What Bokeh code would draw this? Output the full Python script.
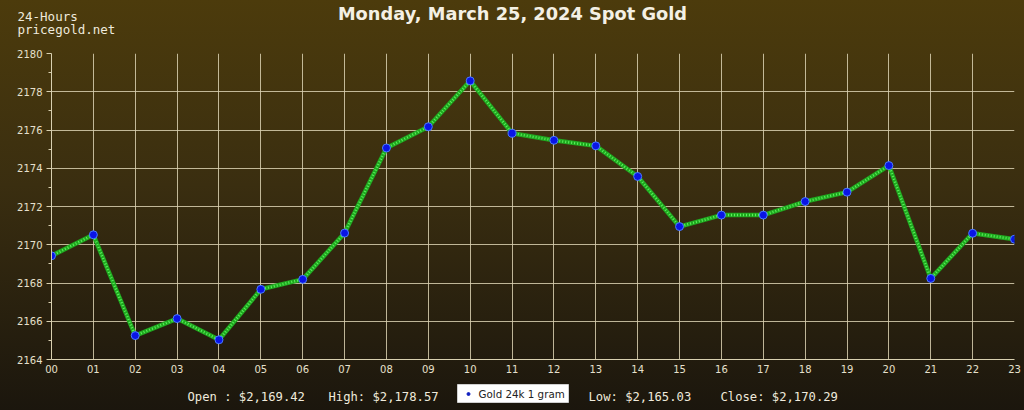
from bokeh.plotting import figure
from bokeh.layouts import column
from bokeh.models import FixedTicker, Range1d, GlobalInlineStyleSheet
from bokeh.core.properties import value
from bokeh.embed import file_html
from bokeh.resources import INLINE

hours = list(range(24))
hour_labels = ["%02d" % h for h in hours]
prices = [2169.42, 2170.52, 2165.25, 2166.14, 2165.03, 2167.67, 2168.19, 2170.61,
          2175.06, 2176.17, 2178.57, 2175.83, 2175.46, 2175.17, 2173.57, 2170.95,
          2171.55, 2171.55, 2172.26, 2172.75, 2174.14, 2168.24, 2170.60, 2170.29]
y_ticks = [2164, 2166, 2168, 2170, 2172, 2174, 2176, 2178, 2180]
title_text = "Monday, March 25, 2024 Spot Gold"
corner_lines = ["24-Hours", "pricegold.net"]
stats = ["Open : $2,169.42", "High: $2,178.57", "Low: $2,165.03", "Close: $2,170.29"]
series_name = "Gold 24k 1 gram"

W = 1024
HEAD_H, MAIN_H, FOOT_H = 40, 340, 30
BL, BR = 51, 10          # left / right borders of the chart area
TXT = "#efeadc"
GRID = "#d9d0b0"


def blank(h):
    f = figure(width=W, height=h, output_backend="svg", toolbar_location=None,
               x_range=Range1d(0, W), y_range=Range1d(h, 0),
               x_axis_type=None, y_axis_type=None, min_border=0)
    f.frame_align = False
    f.grid.visible = False
    f.outline_line_color = None
    f.background_fill_alpha = 0
    f.border_fill_alpha = 0
    return f


# ---- header ----
head = blank(HEAD_H)
head.text(x=[512], y=[12.5], text=[title_text], text_align="center",
          text_baseline="middle", text_font=value("DejaVu Sans"),
          text_font_style="bold", text_font_size="17.8px", text_color="#f4f0e4")
head.text(x=[17, 17], y=[16, 29], text=corner_lines, text_align="left",
          text_baseline="middle", text_font=value("DejaVu Sans Mono"),
          text_font_size="12.5px", text_color=TXT)

# ---- main chart ----
p = figure(width=W, height=MAIN_H, output_backend="svg", toolbar_location=None,
           x_range=Range1d(0, 23), y_range=Range1d(2164, 2180),
           min_border_left=BL, min_border_right=BR, min_border_top=13,
           min_border_bottom=21)
p.background_fill_alpha = 0
p.border_fill_alpha = 0
p.outline_line_color = None
p.stylesheets = [GlobalInlineStyleSheet(css=
    "html,body{background:linear-gradient(to bottom,#4c3b0c 0%,#3a2e10 45%,#1b160d 100%);}")]

p.xgrid.grid_line_color = GRID
p.ygrid.grid_line_color = GRID
p.xgrid.grid_line_alpha = 0.85
p.ygrid.grid_line_alpha = 0.85

p.xaxis.ticker = FixedTicker(ticks=hours)
p.xaxis.major_label_overrides = {h: lab for h, lab in zip(hours, hour_labels)}
p.yaxis.ticker = FixedTicker(ticks=y_ticks,
                             minor_ticks=[v + 1 for v in y_ticks[:-1]])
for ax in (p.xaxis, p.yaxis):
    ax.axis_line_color = GRID
    ax.major_tick_line_color = GRID
    ax.minor_tick_line_color = GRID
    ax.major_label_text_color = "#e6e0cc"
    ax.major_label_text_font = "DejaVu Sans"
    ax.major_label_text_font_size = "10px"
p.xaxis.major_tick_in = 0
p.xaxis.major_tick_out = 0
p.xaxis.minor_tick_out = 0
p.xaxis.major_label_standoff = 5
p.yaxis.major_tick_in = 0
p.yaxis.major_tick_out = 5
p.yaxis.minor_tick_in = 0
p.yaxis.minor_tick_out = 3
p.yaxis.major_label_standoff = 4

p.line(hours, prices, line_color="#1fa81f", line_width=4.5)
p.line(hours, prices, line_color="#5cf05c", line_width=2.5, line_dash="1 2")
p.scatter(hours, prices, size=8, fill_color="#0a14e6", line_color="#4a7cff",
          line_width=1)

# ---- footer (stats + legend box) ----
foot = blank(FOOT_H)
foot.text(x=[187, 328, 588, 720], y=[16] * 4, text=stats, text_align="left",
          text_baseline="middle", text_font=value("DejaVu Sans Mono"),
          text_font_size="12.2px", text_color=TXT)
foot.quad(left=[457], right=[568], top=[4], bottom=[22], fill_color="white",
          line_color="#cfcfcf", line_width=1)
foot.scatter(x=[468], y=[13.5], size=3, fill_color="#1020c0", line_color="#1020c0")
foot.text(x=[478], y=[13], text=[series_name], text_align="left",
          text_baseline="middle", text_font=value("DejaVu Sans"),
          text_font_size="10.3px", text_color="#222222")

layout = column(head, p, foot, spacing=0)
open("out.html", "w").write(file_html(layout, INLINE))
